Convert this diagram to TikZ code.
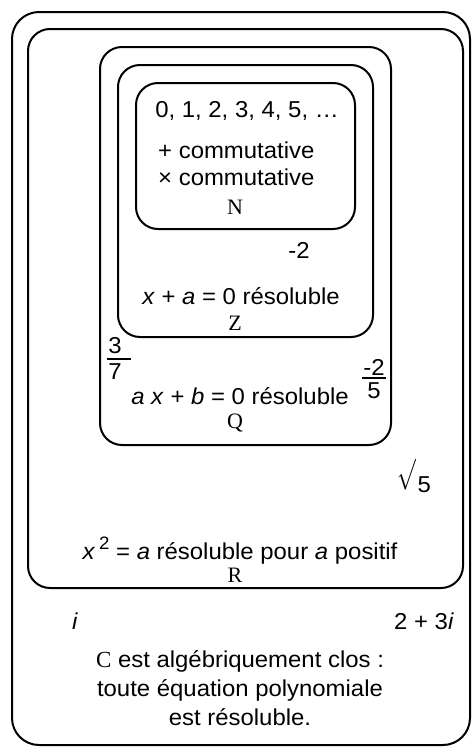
\documentclass[tikz,border=0pt]{standalone}
\usepackage{fix-cm}
\usepackage{graphicx}
\usepackage{fontspec}
\setmainfont[FakeStretch=1.04]{Liberation Sans}
\newfontfamily\serifset{Liberation Serif}
\begin{document}
\begin{tikzpicture}[x=1pt,y=-1pt,
  setbox/.style={draw=black,line width=2pt,rounded corners=22pt},
  txt/.style={inner sep=0pt,font=\fontsize{23}{27}\selectfont},
  lbl/.style={inner sep=0pt,font=\fontsize{22}{26}\serifset},
  fracbar/.style={line width=1.6pt}]
\useasboundingbox (0,0) rectangle (472,747);
% boxes
\draw[setbox,rounded corners=27pt] (12,12) rectangle (470,745);
\draw[setbox] (28,29) rectangle (463,588);
\draw[setbox] (100,47) rectangle (391,445);
\draw[setbox] (118,65) rectangle (373,337);
\draw[setbox] (136,83) rectangle (355,229);
% N
\node[txt,anchor=base] (n1) at (247,117) {0, 1, 2, 3, 4, 5, …};
\node[txt,anchor=base west] (n2) at (158,158) {+ commutative};
\node[txt,anchor=base west] (n3) at (158,185) {× commutative};
\node[lbl,anchor=base] (nl) at (235,214) {N};
% Z
\node[txt,anchor=base] (m2) at (299,258) {-2};
\node[txt,anchor=base] (z1) at (241,304) {\textit{x} + \textit{a} = 0 résoluble};
\node[lbl,anchor=base] (zl) at (235,330) {Z};
% Q
\node[txt] (f1n) at (115,346) {3};
\node[txt] (f1d) at (115,372) {7};
\coordinate (f1a) at (107,359);
\coordinate (f1b) at (131,359);
\draw[fracbar] (f1a) -- (f1b);
\node[txt,anchor=base] (q1) at (240,404) {\textit{a x} + \textit{b} = 0 résoluble};
\node[txt] (f2n) at (374,367) {-2};
\node[txt] (f2d) at (374,391) {5};
\coordinate (f2a) at (362,378);
\coordinate (f2b) at (386,378);
\draw[fracbar] (f2a) -- (f2b);
\node[lbl,anchor=base] (ql) at (235,428) {Q};
% R
\node[inner sep=0pt,anchor=east] (sq) at (416.5,475) {\fontsize{31}{31}\selectfont\scalebox{0.72}[1]{$\surd$}};
\node[txt,anchor=west] (s5) at (417.5,485) {5};
\node[txt,anchor=base] (r1) at (240,559) {\textit{x}\,\raisebox{0.42em}{\fontsize{18}{20}\selectfont 2} = \textit{a} résoluble pour \textit{a} positif};
\node[lbl,anchor=base] (rl) at (235,582) {R};
% C
\node[txt,anchor=base] (ci) at (75,629) {\textit{i}};
\node[txt,anchor=base] (c23) at (424,629) {2 + 3\textit{i}};
\node[txt,anchor=base] (c1) at (240,667) {{\serifset C} est algébriquement clos :};
\node[txt,anchor=base] (c2) at (240,696) {toute équation polynomiale};
\node[txt,anchor=base] (c3) at (240,725) {est résoluble.};
\end{tikzpicture}
\end{document}
